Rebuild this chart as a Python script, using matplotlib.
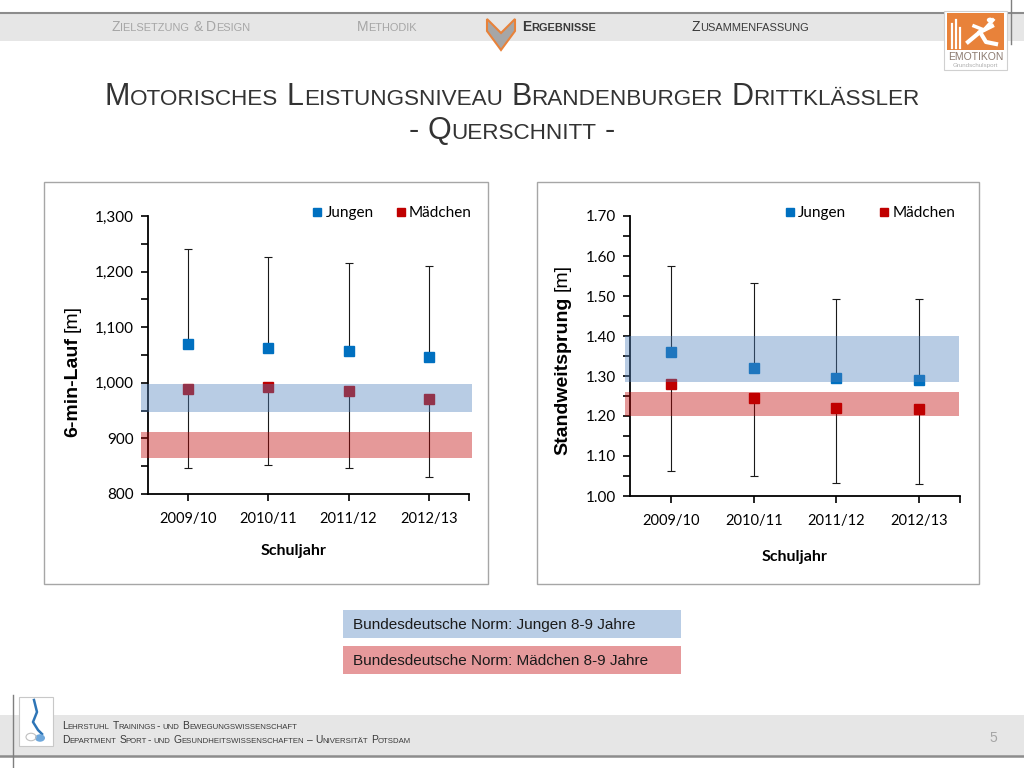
import matplotlib
matplotlib.use('Agg')
import numpy as np
import matplotlib.pyplot as plt
from matplotlib.ticker import MultipleLocator, FixedLocator, FuncFormatter
from matplotlib.patches import Rectangle, Polygon, Circle
from matplotlib.lines import Line2D

plt.rcParams['font.family'] = ['Lato', 'DejaVu Sans']

W, H = 1024, 768

# ---------------- data ----------------
categories = ['2009/10', '2010/11', '2011/12', '2012/13']
series_names = ['Jungen', 'Mädchen']

lauf_jungen = [1070, 1063, 1057, 1047]
lauf_jungen_sd = [170, 164, 158, 163]
lauf_maedchen = [988, 993, 985, 970]
lauf_maedchen_sd = [141, 140, 139, 140]
lauf_norm_jungen = [948, 998]
lauf_norm_maedchen = [864, 911]

sprung_jungen = [1.36, 1.32, 1.295, 1.29]
sprung_jungen_sd = [0.216, 0.212, 0.197, 0.202]
sprung_maedchen = [1.28, 1.245, 1.219, 1.217]
sprung_maedchen_sd = [0.218, 0.194, 0.187, 0.188]
sprung_norm_jungen = [1.285, 1.40]
sprung_norm_maedchen = [1.20, 1.26]

nav_items = ['Zielsetzung & Design', 'Methodik', 'Ergebnisse', 'Zusammenfassung']
title_lines = ['Motorisches Leistungsniveau Brandenburger Drittklässler', '- Querschnitt -']
norm_labels = ['Bundesdeutsche Norm: Jungen 8-9 Jahre', 'Bundesdeutsche Norm: Mädchen 8-9 Jahre']
footer_lines = ['Lehrstuhl Trainings- und Bewegungswissenschaft',
                'Department Sport- und Gesundheitswissenschaften – Universität Potsdam']
page_number = '5'

BLUE = '#0070C0'
RED = '#C00000'
BAND_BLUE = '#4F81BD'
BAND_RED = '#C00000'
BOX_BLUE = '#B9CDE5'
BOX_RED = '#E6999B'

fig = plt.figure(figsize=(W / 100, H / 100), dpi=100)
fig.patch.set_facecolor('white')
R = fig.canvas.get_renderer()


def fx(x):
    return x / W


def fy(y):
    return 1 - y / H


def add_rect(x0, y0, x1, y1, **kw):
    r = Rectangle((fx(x0), fy(y1)), (x1 - x0) / W, (y1 - y0) / H,
                  transform=fig.transFigure, **kw)
    fig.add_artist(r)
    return r


def add_line(xs, ys, **kw):
    l = Line2D([fx(v) for v in xs], [fy(v) for v in ys], transform=fig.transFigure, **kw)
    fig.add_artist(l)
    return l


def text_width(s, size, weight='normal', family='Liberation Sans'):
    t = fig.text(0, 0, s, fontsize=size, fontweight=weight, family=family)
    w = t.get_window_extent(R).width
    t.remove()
    return w


def smallcaps(x, y, s, big, small, color, ha='left', weight='normal', family='Liberation Sans'):
    runs = []
    for ch in s:
        if ch == ' ':
            kind = 'space'
            t = ' '
        elif ch.islower():
            kind = 'small'
            t = ch.upper()
        else:
            kind = 'big'
            t = ch
        if runs and runs[-1][1] == kind:
            runs[-1][0] += t
        else:
            runs.append([t, kind])
    widths = []
    for t, kind in runs:
        if kind == 'space':
            widths.append(len(t) * 0.278 * big * 100 / 72)
        else:
            widths.append(text_width(t, big if kind == 'big' else small, weight, family))
    total = sum(widths)
    if ha == 'center':
        cx = x - total / 2
    elif ha == 'right':
        cx = x - total
    else:
        cx = x
    for (t, kind), w in zip(runs, widths):
        if kind != 'space':
            fig.text(fx(cx), fy(y), t, fontsize=big if kind == 'big' else small,
                     fontweight=weight, family=family, color=color, ha='left', va='baseline')
        cx += w


def rot_label(xbase, ybottom, bold_text, normal_text, size):
    t1 = fig.text(fx(xbase), fy(ybottom), bold_text, rotation=90, rotation_mode='anchor',
                  ha='left', va='baseline', fontsize=size, fontweight='bold',
                  family='Liberation Sans', color='black')
    h = t1.get_window_extent(R).height
    sp = 0.278 * size * 100 / 72
    fig.text(fx(xbase), fy(ybottom - h - sp), normal_text, rotation=90, rotation_mode='anchor',
             ha='left', va='baseline', fontsize=size, family='Liberation Sans', color='black')


# ---------------- slide frame ----------------
add_rect(0, 13, W, 41, facecolor='#E6E6E6', edgecolor='none', zorder=-5)
add_line([0, W], [13, 13], color='#8C8C8C', lw=1.5, zorder=-4)
add_line([1011, 1011], [0, 44], color='#7F7F7F', lw=1.0, zorder=-4)

nav_x = [181, 387, 559, 750]
nav_col = ['#A6A6A6', '#A6A6A6', '#3A3A3A', '#3A3A3A']
nav_w = ['normal', 'normal', 'bold', 'normal']
for s, x, c, w in zip(nav_items, nav_x, nav_col, nav_w):
    smallcaps(x, 31, s, 10, 7.9, c, ha='center', weight=w)

# chevron icon
chev = [(487, 19), (501, 33), (515, 19), (515, 31), (501, 50), (487, 31)]
fig.add_artist(Polygon([(fx(a), fy(b)) for a, b in chev], closed=True, transform=fig.transFigure,
                       facecolor='#A6A6A6', edgecolor='#E8823A', lw=1.5, zorder=-3))

# top-right logo
add_rect(944, 11, 1007, 70, facecolor='white', edgecolor='#D0D0D0', lw=0.8, zorder=-3)
add_rect(947, 13, 1004, 50, facecolor='#E8823A', edgecolor='none', zorder=-2)
for xv, y0 in [(952, 24), (956, 20), (960, 28)]:
    add_line([xv, xv], [y0, 48], color='white', lw=1.6, zorder=-1)
add_line([968, 980, 992], [42, 32, 26], color='white', lw=3, zorder=-1)
add_line([980, 986, 996], [32, 42, 44], color='white', lw=3, zorder=-1)
add_line([974, 984, 993], [26, 30, 20], color='white', lw=2.5, zorder=-1)
fig.add_artist(Circle((fx(990), fy(20)), 3.2 / W, transform=fig.transFigure,
                      facecolor='white', edgecolor='none', zorder=-1))
fig.text(fx(975.5), fy(60), 'EMOTIKON', fontsize=7.5, color='#8C7B70', ha='center', va='baseline',
         family='Liberation Sans')
fig.text(fx(975.5), fy(67), 'Grundschulsport', fontsize=4.5, color='#B0B0B0', ha='center',
         va='baseline', family='Liberation Sans')

# title
smallcaps(512, 105, title_lines[0], 22, 16.2, '#333333', ha='center')
smallcaps(512, 139, title_lines[1], 22, 16.2, '#333333', ha='center')

# panel frames
add_rect(44, 182, 488, 584, facecolor='white', edgecolor='#A6A6A6', lw=1.0, zorder=-5)
add_rect(537, 182, 979, 584, facecolor='white', edgecolor='#A6A6A6', lw=1.0, zorder=-5)

# footer
add_rect(0, 715, W, 756, facecolor='#E6E6E6', edgecolor='none', zorder=-5)
add_line([0, W], [756, 756], color='#8C8C8C', lw=1.8, zorder=-4)
add_line([13, 13], [695, 768], color='#7F7F7F', lw=1.0, zorder=-4)
add_rect(19, 697, 53, 746, facecolor='white', edgecolor='#C8C8C8', lw=0.8, zorder=-3)
add_line([34, 37, 33, 38, 42], [700, 712, 722, 730, 734], color='#2E75B6', lw=1.8, zorder=-2)
fig.add_artist(Circle((fx(40), fy(738)), 5 / W, transform=fig.transFigure,
                      facecolor='#6FA8DC', edgecolor='none', zorder=-2))
fig.add_artist(Circle((fx(31), fy(737)), 5 / W, transform=fig.transFigure,
                      facecolor='none', edgecolor='#C0C0C0', lw=0.8, zorder=-2))
smallcaps(62, 729, footer_lines[0], 7.4, 5.6, '#3A3A3A')
smallcaps(62, 743, footer_lines[1], 7.4, 5.6, '#3A3A3A')
fig.text(fx(993), fy(742), page_number, fontsize=10, color='#A6A6A6', ha='center', va='baseline',
         family='Liberation Sans')

# norm legend boxes
add_rect(343, 610, 681, 638, facecolor=BOX_BLUE, edgecolor='none', zorder=-3)
add_rect(343, 646, 681, 674, facecolor=BOX_RED, edgecolor='none', zorder=-3)
fig.text(fx(353), fy(625), norm_labels[0], fontsize=11, family='Liberation Sans', color='#1A1A1A',
         ha='left', va='center')
fig.text(fx(353), fy(661), norm_labels[1], fontsize=11, family='Liberation Sans', color='#1A1A1A',
         ha='left', va='center')


# ---------------- charts ----------------
def make_chart(px, ylim, major, minor, fmt, jun, jun_sd, mae, mae_sd, norm_j, norm_m,
               band_x, legend_anchor, colspace):
    x0, y0, x1, y1 = px
    ax = fig.add_axes([fx(x0), fy(y1), (x1 - x0) / W, (y1 - y0) / H])
    ax.set_zorder(2)
    ax.patch.set_alpha(0)
    ax.set_xlim(-0.5, 3.5)
    ax.set_ylim(*ylim)
    for s in ['top', 'right']:
        ax.spines[s].set_visible(False)
    for s in ['left', 'bottom']:
        ax.spines[s].set_linewidth(1.3)
        ax.spines[s].set_color('black')
    ax.yaxis.set_major_locator(MultipleLocator(major))
    ax.yaxis.set_minor_locator(MultipleLocator(minor))
    ax.yaxis.set_major_formatter(FuncFormatter(fmt))
    ax.set_xticks(range(len(categories)))
    ax.set_xticklabels(categories)
    ax.xaxis.set_minor_locator(FixedLocator([3.5]))
    ax.tick_params(axis='y', which='major', direction='out', length=5, width=1.2, pad=5,
                   labelsize=11, colors='black')
    ax.tick_params(axis='y', which='minor', direction='out', length=5, width=1.2)
    ax.tick_params(axis='x', which='both', direction='out', length=5, width=1.2, pad=8,
                   labelsize=10.5)
    xs = np.arange(len(categories))
    ax.errorbar(xs, jun, yerr=[np.zeros(len(jun)), jun_sd], fmt='s', color=BLUE, markersize=7,
                ecolor='#1A1A1A', elinewidth=0.8, capsize=3, capthick=0.8, zorder=3,
                clip_on=False)
    ax.errorbar(xs, mae, yerr=[mae_sd, np.zeros(len(mae))], fmt='s', color=RED, markersize=7,
                ecolor='#1A1A1A', elinewidth=0.8, capsize=3, capthick=0.8, zorder=3,
                clip_on=False)
    for (lo, hi), c in [(norm_j, BAND_BLUE), (norm_m, BAND_RED)]:
        sp = ax.axhspan(lo, hi, xmin=band_x[0], xmax=band_x[1], facecolor=c, alpha=0.4, lw=0,
                        zorder=4)
        sp.set_clip_on(False)
    handles = [Line2D([], [], marker='s', ls='none', color=BLUE, markersize=6),
               Line2D([], [], marker='s', ls='none', color=RED, markersize=6)]
    ax.legend(handles, series_names, ncol=2, loc='center right', bbox_to_anchor=legend_anchor,
              frameon=False, handlelength=0.5, handletextpad=0.3, columnspacing=colspace,
              borderpad=0, borderaxespad=0, prop={'family': 'Lato', 'size': 11})
    return ax


make_chart((148, 216, 469, 494), (800, 1300), 100, 50, lambda v, p: f'{v:,.0f}',
           lauf_jungen, lauf_jungen_sd, lauf_maedchen, lauf_maedchen_sd,
           lauf_norm_jungen, lauf_norm_maedchen, (-0.022, 1.009), (1.009, 1.011), 1.5)
make_chart((630, 216, 960, 496), (1.0, 1.7), 0.1, 0.05, lambda v, p: f'{v:.2f}',
           sprung_jungen, sprung_jungen_sd, sprung_maedchen, sprung_maedchen_sd,
           sprung_norm_jungen, sprung_norm_maedchen, (-0.015, 0.997), (0.985, 1.011), 2.2)

# axis titles
rot_label(77, 437, '6-min-Lauf', '[m]', 14)
rot_label(567, 455, 'Standweitsprung', '[m]', 14)
fig.text(fx(294), fy(551), 'Schuljahr', fontsize=11.5, fontweight='bold', family='Lato',
         ha='center', va='center')
fig.text(fx(795), fy(557), 'Schuljahr', fontsize=11.5, fontweight='bold', family='Lato',
         ha='center', va='center')

fig.savefig('out.png', dpi=100, facecolor='white')
